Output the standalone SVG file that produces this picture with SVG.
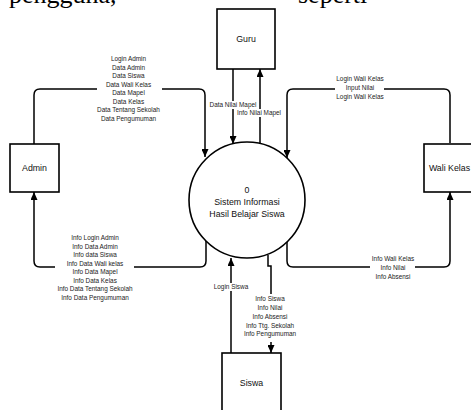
<svg xmlns="http://www.w3.org/2000/svg" width="471" height="410" viewBox="0 0 471 410">
<defs>
<marker id="arr" markerUnits="userSpaceOnUse" markerWidth="8" markerHeight="7" refX="8" refY="3.5" orient="auto">
<path d="M0,0 L8,3.5 L0,7 z" fill="#000"/>
</marker>
<style>
.box{fill:#fff;stroke:#000;stroke-width:1.6}
.ln{fill:none;stroke:#000;stroke-width:1.5}
.ar{marker-end:url(#arr)}
.bg{fill:#fff;stroke:none}
.nt{font-family:"Liberation Sans",Arial,sans-serif;font-size:8.8px;fill:#111;text-anchor:middle}
.lb{font-family:"Liberation Sans",Arial,sans-serif;font-size:6.4px;fill:#222;text-anchor:middle}
.pg{font-family:"Liberation Serif","Times New Roman",serif;font-size:26px;fill:#000}
</style>
</defs>
<rect width="471" height="410" fill="#fff"/>
<g id="page-text">
<text class="pg" x="9" y="2.5">pengguna,</text>
<text class="pg" x="298" y="2.5">seperti</text>
</g>
<g id="connectors">
<path class="ln ar" d="M34,144 V95 Q34,89 40,89 H199 Q205,89 205,95 V157"/>
<path class="ln ar" d="M206,240 V261 Q206,267 200,267 H40 Q34,267 34,261 V192"/>
<path class="ln ar" d="M233,69 V144"/>
<path class="ln ar" d="M260,143 V69"/>
<path class="ln ar" d="M450,143 V95 Q450,89 444,89 H293 Q287,89 287,95 V158"/>
<path class="ln ar" d="M287,242 V261 Q287,267 293,267 H444 Q450,267 450,261 V192"/>
<path class="ln ar" d="M231,353 V258"/>
<path class="ln ar" d="M268,255 V266 H271 V353"/>
<rect class="bg" x="97" y="85" width="65" height="8"/>
<rect class="bg" x="55" y="263" width="79" height="8"/>
<rect class="bg" x="209" y="101" width="48" height="8"/>
<rect class="bg" x="235" y="109" width="48" height="8"/>
<rect class="bg" x="335" y="85" width="49" height="8"/>
<rect class="bg" x="370" y="263" width="45" height="8"/>
<rect class="bg" x="214" y="283" width="34" height="8"/>
<rect class="bg" x="244" y="294" width="52" height="48"/>
<g class="lb">
<text x="128.5" y="61.3">Login Admin</text>
<text x="128.5" y="69.8">Data Admin</text>
<text x="128.5" y="78.3">Data Siswa</text>
<text x="128.5" y="86.8">Data Wali Kelas</text>
<text x="128.5" y="95.3">Data Mapel</text>
<text x="128.5" y="103.8">Data Kelas</text>
<text x="128.5" y="112.3">Data Tentang Sekolah</text>
<text x="128.5" y="120.8">Data Pengumuman</text>
<text x="95" y="240.3">Info Login Admin</text>
<text x="95" y="248.8">Info Data Admin</text>
<text x="95" y="257.3">Info data Siswa</text>
<text x="95" y="265.8">Info Data Wali kelas</text>
<text x="95" y="274.3">Info Data Mapel</text>
<text x="95" y="282.8">Info Data Kelas</text>
<text x="95" y="291.3">Info Data Tentang Sekolah</text>
<text x="95" y="299.8">Info Data Pengumuman</text>
<text x="233" y="107.3">Data Nilai Mapel</text>
<text x="259" y="115.3">Info Nilai Mapel</text>
<text x="360" y="81.3">Login Wali Kelas</text>
<text x="360" y="90">Input Nilai</text>
<text x="360" y="98.5">Login Wali Kelas</text>
<text x="393" y="261.3">Info Wali Kelas</text>
<text x="393" y="270">Info Nilai</text>
<text x="393" y="278.5">Info Absensi</text>
<text x="231" y="289.3">Login Siswa</text>
<text x="270" y="301.3">Info Siswa</text>
<text x="270" y="310">Info Nilai</text>
<text x="270" y="318.8">Info Absensi</text>
<text x="270" y="327.5">Info Ttg. Sekolah</text>
<text x="270" y="336.3">Info Pengumuman</text>
</g>
</g>
<g id="guru">
<rect class="box" x="217" y="9" width="58" height="60"/>
<text class="nt" x="246" y="42">Guru</text>
</g>
<g id="admin">
<rect class="box" x="10" y="144" width="49" height="48"/>
<text class="nt" x="34.5" y="171">Admin</text>
</g>
<g id="wali-kelas">
<rect class="box" x="424" y="144" width="52" height="48"/>
<text class="nt" x="449.5" y="171">Wali Kelas</text>
</g>
<g id="siswa">
<rect class="box" x="222" y="353" width="59" height="60"/>
<text class="nt" x="251.5" y="386">Siswa</text>
</g>
<g id="process-0">
<circle class="box" cx="247" cy="200" r="58"/>
<text class="nt" x="247" y="193.3">0</text>
<text class="nt" x="247" y="205">Sistem Informasi</text>
<text class="nt" x="247" y="216.5">Hasil Belajar Siswa</text>
</g>
</svg>
